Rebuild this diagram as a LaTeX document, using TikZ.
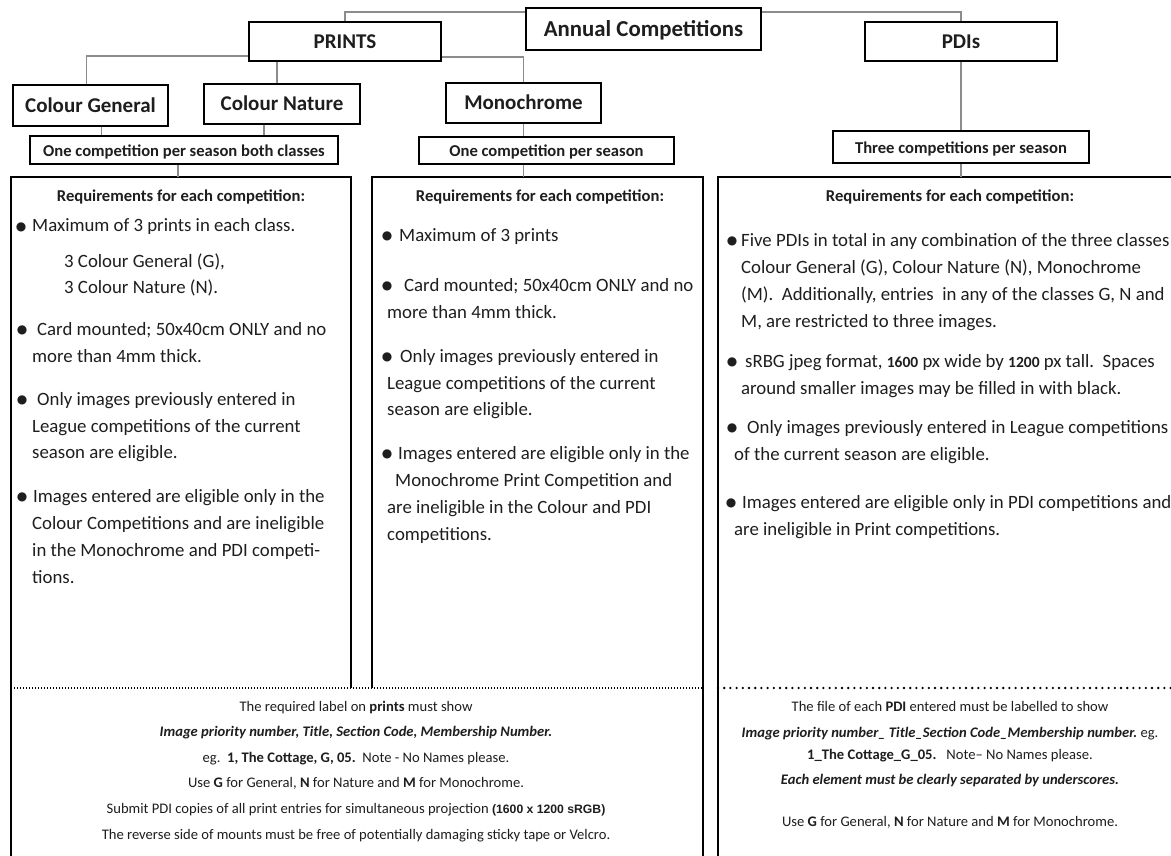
\documentclass[tikz,border=0pt]{standalone}
\usepackage{fontspec}
\setmainfont{Carlito}
\newfontfamily\dejavu{DejaVu Sans}
\newfontfamily\arialf{Liberation Sans}
\definecolor{txtc}{HTML}{1E1E1E}
\definecolor{connc}{HTML}{8C8C8C}
\newcommand\bodyfont{\fontsize{18.8}{22}\selectfont\frenchspacing}
\newcommand\bulfont{\dejavu\fontsize{12}{12}\selectfont}
\newcommand\smallfont{\fontsize{14.6}{17}\selectfont\frenchspacing}
\newcommand\reqfont{\bfseries\fontsize{16.6}{19}\selectfont}
\newcommand\hfont{\bfseries\fontsize{21}{24}\selectfont}
\newcommand\afont{\bfseries\fontsize{22.8}{26}\selectfont}
\newcommand\sfont{\bfseries\fontsize{16.6}{19}\selectfont}
\newcommand\nb[1]{{\bfseries\fontsize{15.5}{18}\selectfont #1}}
\newcommand\txl[4]{\node[tx] (#1) at (#2,#3+5) {#4};}
\newcommand\tbul[3]{\node[bul] (#1) at (#2,#3+0.5) {●};}
\newcommand\btl[4]{\node[btx] (#1) at (#2,#3+4) {#4};}
\begin{document}
\begin{tikzpicture}[x=1pt,y=-1pt,
  hbox/.style={draw=black, line width=1.7pt, inner sep=0pt, text=txtc, text height=13.8pt, text depth=0pt},
  abox/.style={draw=black, line width=1.7pt, inner sep=0pt, text=txtc, text height=16pt, text depth=0pt},
  sbox/.style={draw=black, line width=1.7pt, inner sep=0pt, text=txtc, font=\sfont, text height=13pt, text depth=0pt},
  region/.style={inner sep=0pt, anchor=north west},
  frame/.style={draw=black, line width=1.9pt},
  conn/.style={draw=connc, line width=1.5pt},
  finedots/.style={draw=black, line width=1.1pt, dash pattern=on 1pt off 2pt},
  bigdots/.style={draw=black, line width=2.6pt, line cap=round, dash pattern=on 0pt off 6.2pt},
  tx/.style={anchor=base west, inner sep=0pt, font=\bodyfont, text=txtc},
  bul/.style={anchor=center, inner sep=0pt, font=\bulfont, text=txtc},
  btx/.style={anchor=base, inner sep=0pt, font=\smallfont, text=txtc},
  req/.style={anchor=base, inner sep=0pt, font=\reqfont, text=txtc}]
\useasboundingbox (0,0) rectangle (1171,856);
\clip (0,0) rectangle (1171,856);
\fill[white] (0,0) rectangle (1171,856);

% header boxes
\node[abox, font=\afont, minimum width=235pt, minimum height=42pt] (annual) at (643.5,29) {Annual Competitions};
\node[hbox, font=\hfont, minimum width=192pt, minimum height=39pt] (prints) at (345,41.5) {PRINTS};
\node[hbox, font=\hfont, minimum width=192pt, minimum height=39pt] (pdis) at (961,41.5) {PDIs};
\node[hbox, font=\hfont, minimum width=155pt, minimum height=41pt] (cg) at (90.5,105.5) {Colour General};
\node[hbox, font=\hfont, minimum width=156pt, minimum height=40pt] (cn) at (282,104) {Colour Nature};
\node[hbox, font=\hfont, minimum width=155pt, minimum height=40pt] (mono) at (523.5,103) {Monochrome};
\node[sbox, minimum width=308pt, minimum height=28pt] (ocb) at (184,150) {One competition per season both classes};
\node[sbox, minimum width=255pt, minimum height=27pt] (ocs) at (546.5,150.5) {One competition per season};
\node[sbox, minimum width=256pt, minimum height=32pt] (three) at (961,147) {Three competitions per season};

% regions
\node[region, minimum width=340pt, minimum height=511pt] (box1) at (11,177) {};
\node[region, minimum width=331pt, minimum height=511pt] (box2) at (372,177) {};
\node[region, minimum width=464pt, minimum height=511pt] (box3) at (718,177) {};
\node[region, minimum width=692pt, minimum height=190pt] (lab1) at (11,688) {};
\node[region, minimum width=464pt, minimum height=190pt] (lab2) at (718,688) {};

\draw[frame] (lab1.south west) -- (box1.north west) -- (box1.north east) -- (box1.south east);
\draw[frame] (box2.south west) -- (box2.north west) -- (box2.north east) -- (lab1.south east);
\draw[frame] (lab2.south west) -- (box3.north west) -- (box3.north east);
\draw[finedots] (lab1.north west) -- (lab1.north east);
\draw[bigdots] (lab2.north west) -- (lab2.north east);

% connectors
\draw[conn] ([yshift=-5pt]annual.north west) -| (prints.north);
\draw[conn] ([yshift=-5pt]annual.north east) -| (pdis.north);
\draw[conn] ([yshift=6pt]prints.south west) -| ([xshift=-4pt]cg.north);
\draw[conn] ([xshift=-5pt]cn.north) -- ([xshift=-5pt]cn.north |- prints.south);
\draw[conn] ([yshift=5pt]prints.south east) -| (mono.north);
\draw[conn] ([xshift=11pt]cg.south) -- ([xshift=11pt]cg.south |- ocb.north);
\draw[conn] ([xshift=-18pt]cn.south) -- ([xshift=-18pt]cn.south |- ocb.north);
\draw[conn] ([xshift=-6pt]ocb.south) -- ([xshift=-6pt]ocb.south |- box1.north);
\draw[conn] (mono.south) -- (mono.south |- ocs.north);
\draw[conn] (ocs.south -| mono.south) -- (mono.south |- box2.north);
\draw[conn] (pdis.south) -- (three.north);
\draw[conn] (three.south) -- (three.south |- box3.north);

% box 1
\node[req] (r1) at (181,201.5) {Requirements for each competition:};
\tbul{b11}{21}{227}
\txl{t11}{32}{227}{Maximum of 3 prints in each class.}
\txl{t12}{64}{262}{3 Colour General (G),}
\txl{t13}{64}{288}{3 Colour Nature (N).}
\tbul{b12}{22}{330}
\txl{t14}{37}{330}{Card mounted; 50x40cm ONLY and no}
\txl{t15}{32}{357}{more than 4mm thick.}
\tbul{b13}{22}{400}
\txl{t16}{37}{400}{Only images previously entered in}
\txl{t17}{32}{427}{League competitions of the current}
\txl{t18}{32}{453}{season are eligible.}
\tbul{b14}{22}{497}
\txl{t19}{33}{497}{Images entered are eligible only in the}
\txl{t110}{32}{524}{Colour Competitions and are ineligible}
\txl{t111}{32}{551}{in the Monochrome and PDI competi-}
\txl{t112}{32}{578}{tions.}

% box 2
\node[req] (r2) at (540,201.5) {Requirements for each competition:};
\tbul{b21}{387}{236}
\txl{t21}{399}{236}{Maximum of 3 prints}
\tbul{b22}{387}{286}
\txl{t22}{404}{286}{Card mounted; 50x40cm ONLY and no}
\txl{t23}{387}{313}{more than 4mm thick.}
\tbul{b23}{387}{357}
\txl{t24}{400}{357}{Only images previously entered in}
\txl{t25}{387}{384}{League competitions of the current}
\txl{t26}{387}{410}{season are eligible.}
\tbul{b24}{387}{454}
\txl{t27}{398}{454}{Images entered are eligible only in the}
\txl{t28}{395}{481}{Monochrome Print Competition and}
\txl{t29}{387}{508}{are ineligible in the Colour and PDI}
\txl{t210}{387}{535}{competitions.}

% box 3
\node[req] (r3) at (950,201.5) {Requirements for each competition:};
\tbul{b31}{732}{241}
\txl{t31}{741}{241}{Five PDIs in total in any combination of the three classes}
\txl{t32}{741}{268}{Colour General (G), Colour Nature (N), Monochrome}
\txl{t33}{741}{295}{(M).\ \ Additionally, entries\ \ in any of the classes G, N and}
\txl{t34}{741}{322}{M, are restricted to three images.}
\tbul{b32}{732}{362}
\txl{t35}{745}{362}{sRBG jpeg format, \nb{1600} px wide by \nb{1200} px tall.\ \ Spaces}
\txl{t36}{741}{389}{around smaller images may be filled in with black.}
\tbul{b33}{732}{428}
\txl{t37}{747}{428}{Only images previously entered in League competitions}
\txl{t38}{734}{455}{of the current season are eligible.}
\tbul{b34}{731}{503}
\txl{t39}{742}{503}{Images entered are eligible only in PDI competitions and}
\txl{t310}{734}{530}{are ineligible in Print competitions.}

% bottom left
\btl{l1}{356}{707}{The required label on \textbf{prints} must show}
\btl{l2}{356}{732}{\textbf{\textit{Image priority number, Title, Section Code, Membership Number.}}}
\btl{l3}{356}{758}{eg.\ \ \textbf{1, The Cottage, G, 05.}\ \ Note - No Names please.}
\btl{l4}{356}{783}{Use \textbf{G} for General, \textbf{N} for Nature and \textbf{M} for Monochrome.}
\btl{l5}{356}{809}{Submit PDI copies of all print entries for simultaneous projection {\arialf\bfseries\fontsize{12.2}{14}\selectfont (1600 x 1200 sRGB)}}
\btl{l6}{356}{835}{The reverse side of mounts must be free of potentially damaging sticky tape or Velcro.}

% bottom right
\btl{p1}{950}{707}{The file of each \textbf{PDI} entered must be labelled to show}
\btl{p2}{950}{733}{\textbf{\textit{Image priority number\_ Title\_Section Code\_Membership number.}} eg.}
\btl{p3}{950}{755}{\textbf{1\_The Cottage\_G\_05.}\ \ \ Note– No Names please.}
\btl{p4}{950}{780}{\textbf{\textit{Each element must be clearly separated by underscores.}}}
\btl{p5}{950}{822}{Use \textbf{G} for General, \textbf{N} for Nature and \textbf{M} for Monochrome.}
\end{tikzpicture}
\end{document}
